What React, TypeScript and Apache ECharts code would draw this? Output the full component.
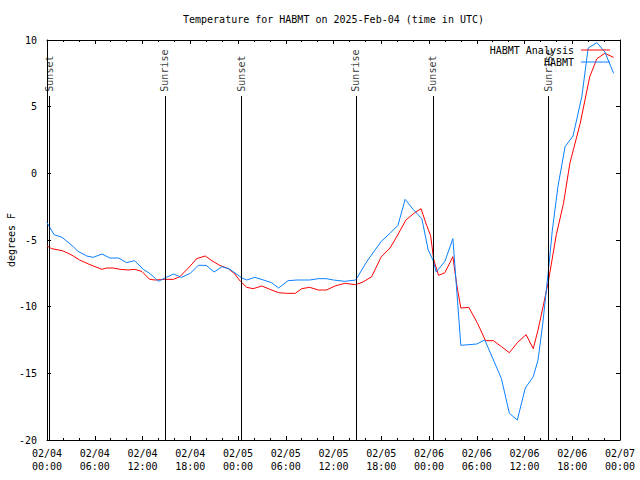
import React, { useEffect, useRef } from 'react';
import * as echarts from 'echarts';

const titleText = 'Temperature for HABMT on 2025-Feb-04 (time in UTC)';
const yAxisTitle = 'degrees F';
const seriesNames = ['HABMT Analysis', 'HABMT'];
const xTickLabels = [
  '02/04\n00:00', '02/04\n06:00', '02/04\n12:00', '02/04\n18:00',
  '02/05\n00:00', '02/05\n06:00', '02/05\n12:00', '02/05\n18:00',
  '02/06\n00:00', '02/06\n06:00', '02/06\n12:00', '02/06\n18:00',
  '02/07\n00:00',
];
const sunEventHours = [0.3, 14.8, 24.4, 38.8, 48.5, 63.0];
const sunEventNames = ['Sunset', 'Sunrise', 'Sunset', 'Sunrise', 'Sunset', 'Sunrise'];

// hours since 02/04 00:00 UTC
const analysisHours = [
  0, 0.6, 1.9, 2.7, 3.3, 4.1, 5.4, 6.9, 7.5, 8.3, 9.2, 10.2, 11.0, 11.9, 12.9, 13.6, 14.8, 15.9,
  16.7, 18.0, 18.8, 19.9, 20.7, 21.7, 22.8, 23.6, 24.3, 25.1, 25.9, 27.0, 28.0, 29.1, 30.1, 31.2,
  32.0, 33.0, 34.1, 35.1, 36.2, 37.4, 38.8, 39.7, 40.8, 42.0, 43.1, 43.9, 45.1, 46.1, 47.0, 47.7,
  48.2, 48.6, 49.2, 50.0, 51.0, 51.5, 52.0, 53.0, 54.1, 55.1, 56.1, 57.1, 58.1, 59.1, 60.2, 61.1,
  61.7, 62.3, 63.0, 64.0, 64.9, 65.7, 67.0, 68.2, 69.1, 70.1, 71.2,
];
const analysisTemps = [
  -5.45, -5.65, -5.8, -6.0, -6.2, -6.5, -6.85, -7.2, -7.1, -7.1, -7.2, -7.25, -7.2, -7.35, -7.95, -8.0, -7.95, -7.95,
  -7.75, -6.95, -6.4, -6.2, -6.55, -6.9, -7.15, -7.55, -8.1, -8.55, -8.65, -8.45, -8.7, -8.95, -9.0, -9.0,
  -8.65, -8.55, -8.75, -8.75, -8.45, -8.25, -8.35, -8.15, -7.75, -6.25, -5.6, -4.8, -3.5, -3.0, -2.65, -3.9,
  -4.65, -6.5, -7.65, -7.45, -6.25, -8.4, -10.1, -10.05, -11.25, -12.55, -12.55, -13.0, -13.45, -12.7, -12.1, -13.15,
  -11.75, -10.1, -8.1, -4.6, -2.25, 0.75, 3.75, 7.25, 8.6, 9.0, 8.7,
];

const obsHours = [
  0, 0.4, 0.9, 1.9, 3.3, 3.9, 5.0, 5.8, 6.9, 7.9, 9.0, 10.0, 11.0, 12.1, 12.9, 14.0, 14.8, 15.9,
  16.9, 18.0, 19.0, 20.0, 21.0, 22.0, 23.0, 24.5, 25.1, 26.1, 27.2, 28.2, 29.1, 30.3, 31.4, 33.0,
  34.1, 35.1, 36.0, 37.4, 38.8, 40.2, 42.0, 43.1, 44.1, 45.0, 46.0, 47.1, 47.9, 48.5, 48.9, 50.0,
  51.0, 52.0, 54.0, 55.0, 56.1, 57.1, 58.1, 59.1, 60.1, 61.1, 61.7, 62.3, 63.0, 63.5, 64.2, 65.1,
  66.1, 67.2, 68.0, 69.1, 70.1, 71.2,
];
const obsTemps = [
  -3.7, -4.1, -4.6, -4.8, -5.5, -5.85, -6.2, -6.3, -6.05, -6.35, -6.35, -6.7, -6.55, -7.2, -7.5, -8.1, -7.85, -7.55,
  -7.8, -7.5, -6.9, -6.9, -7.4, -7.0, -7.2, -7.85, -8.0, -7.8, -8.0, -8.2, -8.6, -8.05, -8.0, -8.0,
  -7.9, -7.9, -8.0, -8.1, -8.0, -6.6, -5.1, -4.5, -3.9, -1.95, -2.7, -3.4, -5.75, -6.5, -7.4, -6.6,
  -4.9, -12.9, -12.8, -12.5, -14.0, -15.4, -18.0, -18.5, -16.1, -15.25, -14.0, -11.25, -7.3, -4.25, -1.0, 2.0,
  2.8, 5.75, 9.4, 9.8, 9.1, 7.5,
];

const FONT = 'DejaVu Sans Mono';
const RED = '#ff0000';
const BLUE = '#0a80ff';

export default function App() {
  const ref = useRef<HTMLDivElement>(null);
  useEffect(() => {
    if (!ref.current) return;
    const chart = echarts.init(ref.current, undefined, { renderer: 'svg' });
    const xMin = 0, xMax = 72, xInt = 6;
    const yMin = -20, yMax = 10, yInt = 5;
    const lineTop = 5.8;
    const labelAt = 6.05;
    const xAxisBase = {
      type: 'value', min: xMin, max: xMax, interval: xInt,
      splitLine: { show: false },
      axisLine: { show: true, onZero: false, lineStyle: { color: '#000', width: 1 } },
      axisTick: { show: true, inside: true, length: 4, lineStyle: { color: '#000' } },
      minorTick: { show: true, splitNumber: 3, length: 2, lineStyle: { color: '#000' } },
    };
    const yAxisBase = {
      type: 'value', min: yMin, max: yMax, interval: yInt,
      splitLine: { show: false },
      axisLine: { show: true, onZero: false, lineStyle: { color: '#000', width: 1 } },
      axisTick: { show: true, inside: true, length: 4, lineStyle: { color: '#000' } },
    };
    chart.setOption({
      animation: false,
      backgroundColor: '#fff',
      textStyle: { fontFamily: FONT, fontSize: 10, color: '#000' },
      title: {
        text: titleText, left: 333.5, top: 14, textAlign: 'center', padding: 0,
        textStyle: { fontFamily: FONT, fontSize: 10, fontWeight: 'normal', color: '#000' },
      },
      legend: {
        data: [{ name: seriesNames[0], icon: 'rect' }, { name: seriesNames[1], icon: 'rect' }],
        orient: 'vertical', align: 'right', right: 30, top: 44, padding: 0,
        itemWidth: 29, itemHeight: 1, itemGap: 0,
        textStyle: { fontFamily: FONT, fontSize: 10, color: '#000', lineHeight: 12, padding: [0, 2, 0, 0] },
      },
      grid: { left: 47, right: 20, top: 40, bottom: 40, containLabel: false, outerBoundsMode: 'none' },
      xAxis: [
        {
          ...xAxisBase, position: 'bottom',
          axisLabel: {
            show: true, margin: 7, showMaxLabel: true, showMinLabel: true,
            fontFamily: FONT, fontSize: 10, color: '#000', lineHeight: 13,
            formatter: (v: number) => xTickLabels[Math.round(v / xInt)] ?? '',
          },
        },
        { ...xAxisBase, position: 'top', axisLabel: { show: false } },
      ],
      yAxis: [
        {
          ...yAxisBase, position: 'left',
          name: yAxisTitle, nameLocation: 'middle', nameGap: 31, nameRotate: 90, nameMoveOverlap: false,
          nameTextStyle: { fontFamily: FONT, fontSize: 10, color: '#000' },
          axisLabel: { show: true, margin: 10, fontFamily: FONT, fontSize: 10, color: '#000' },
        },
        { ...yAxisBase, position: 'right', axisLabel: { show: false } },
      ],
      series: [
        {
          name: seriesNames[0], type: 'line', symbol: 'none', silent: true,
          xAxisIndex: 0, yAxisIndex: 0,
          lineStyle: { color: RED, width: 1 }, itemStyle: { color: RED },
          data: analysisHours.map((h, i) => [h, analysisTemps[i]]),
        },
        {
          name: seriesNames[1], type: 'line', symbol: 'none', silent: true,
          xAxisIndex: 0, yAxisIndex: 0,
          lineStyle: { color: BLUE, width: 1 }, itemStyle: { color: BLUE },
          data: obsHours.map((h, i) => [h, obsTemps[i]]),
        },
        {
          name: 'sun', type: 'scatter', symbolSize: 0, silent: true,
          xAxisIndex: 0, yAxisIndex: 0,
          itemStyle: { color: '#000' },
          data: sunEventHours.map((h, i) => ({ value: [h, labelAt], name: sunEventNames[i] })),
          label: {
            show: true, position: 'inside', rotate: 90, align: 'left', verticalAlign: 'middle',
            offset: [1, 0],
            formatter: (p: any) => p.name,
            fontFamily: FONT, fontSize: 10, color: '#000',
          },
          markLine: {
            silent: true, symbol: ['none', 'none'], label: { show: false },
            lineStyle: { color: '#000', width: 1, type: 'solid' },
            emphasis: { disabled: true },
            data: sunEventHours.map((h) => [{ coord: [h, yMin] }, { coord: [h, lineTop] }]),
          },
        },
      ],
    });
    return () => chart.dispose();
  }, []);
  return <div ref={ref} style={{ position: 'fixed', left: 0, top: 0, width: 640, height: 480 }} />;
}
